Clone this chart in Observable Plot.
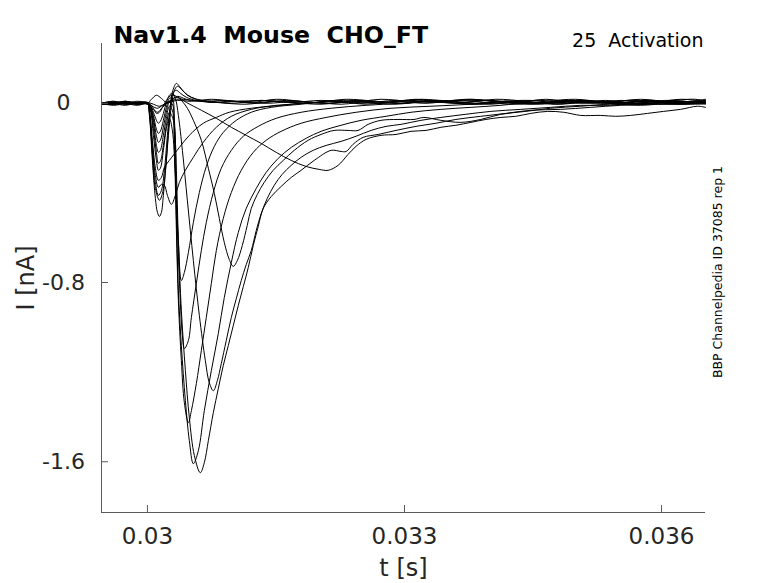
<!DOCTYPE html>
<html>
<head>
<meta charset="utf-8">
<script src="https://cdn.jsdelivr.net/npm/d3@7"></script>
<script src="https://cdn.jsdelivr.net/npm/@observablehq/plot@0.6"></script>
<style>
  html, body { margin: 0; padding: 0; background: #fff; }
  svg { white-space: pre; }
</style>
</head>
<body>
<div id="chart"></div>
<script>
// ---------- texts ----------
const titleText = "Nav1.4  Mouse  CHO_FT";
const protocolText = "25  Activation";
const sideText = "BBP Channelpedia ID 37085 rep 1";
const xLabel = "t [s]";
const yLabel = "I [nA]";

// ---------- axes ----------
const xDomain = [0.029464, 0.036513];
const yDomain = [-1.8266, 0.267];
const xTicks = [0.030, 0.033, 0.036];
const xTickLabels = ["0.03", "0.033", "0.036"];
const yTicks = [0, -0.8, -1.6];
const yTickLabels = ["0", "-0.8", "-1.6"];

// ---------- traces: [t (s), I (nA)] ----------
const traceN1 = [[0.029464,0],[0.029604,0.009],[0.029744,-0.004],[0.029883,0.004],[0.03,0],[0.030047,0.018],[0.030105,0.036],[0.030163,0.022],[0.030221,0.004],[0.03035,0.013],[0.030513,0.009],[0.030746,0.018],[0.031037,0.009],[0.031328,0.013],[0.031678,0.004],[0.032027,0.013],[0.032377,0.004],[0.032726,0.018],[0.033076,0.009],[0.033425,0.013],[0.033775,0],[0.034125,0.009],[0.034474,0.013],[0.034824,0],[0.035173,0.009],[0.035523,0.004],[0.035872,0.013],[0.036222,0],[0.036513,0.013]];

const traceN2 = [[0.029464,0.004],[0.029604,-0.004],[0.029744,0.004],[0.029883,0],[0.03,0],[0.030058,-0.013],[0.030117,-0.022],[0.030175,-0.009],[0.030256,0.009],[0.03035,0.031],[0.030454,0.018],[0.030629,0.009],[0.03092,0.013],[0.031212,0.004],[0.031503,0.018],[0.031794,0.009],[0.032144,0],[0.032493,0.013],[0.032843,0.004],[0.033192,0.018],[0.033542,0.009],[0.033891,0.013],[0.034241,0.004],[0.034591,-0.004],[0.03494,0.009],[0.03529,0],[0.035639,0.013],[0.035989,0.004],[0.036338,-0.004],[0.036513,0]];

const traceN3 = [[0.029464,-0.004],[0.029604,0],[0.029744,0.009],[0.029883,-0.004],[0.03,0.004],[0.03007,-0.004],[0.03014,-0.013],[0.030221,0],[0.030338,0.018],[0.030513,0.013],[0.030804,0.004],[0.031153,-0.004],[0.031468,0.009],[0.031853,0],[0.032202,0.009],[0.032552,-0.004],[0.032901,0.009],[0.033251,0],[0.0336,0.013],[0.03395,0.004],[0.034299,-0.004],[0.034649,0.009],[0.034998,0.018],[0.035348,0.004],[0.035697,-0.004],[0.036047,0.009],[0.036396,0.018],[0.036513,0.009]];

const traceS1 = [[0.029464,-0.004],[0.029604,0],[0.029744,0.004],[0.029883,-0.004],[0.03,-0.004],[0.030058,-0.022],[0.030117,-0.040],[0.030175,-0.018],[0.030256,0.009],[0.03035,0.027],[0.030454,0.004],[0.030629,-0.031],[0.030804,-0.067],[0.030979,-0.107],[0.031153,-0.143],[0.031328,-0.179],[0.031503,-0.219],[0.031678,-0.255],[0.031853,-0.282],[0.032004,-0.295],[0.032109,-0.299],[0.032225,-0.277],[0.032342,-0.228],[0.032435,-0.192],[0.032552,-0.161],[0.032726,-0.143],[0.032901,-0.139],[0.033076,-0.125],[0.033251,-0.121],[0.033425,-0.107],[0.0336,-0.098],[0.033775,-0.085],[0.03395,-0.072],[0.034125,-0.063],[0.034299,-0.058],[0.034474,-0.045],[0.034672,-0.036],[0.034858,-0.040],[0.035057,-0.054],[0.03529,-0.054],[0.035465,-0.058],[0.035639,-0.054],[0.035837,-0.045],[0.036024,-0.036],[0.036222,-0.027],[0.03642,-0.013],[0.036513,-0.018]];

const traceB7 = [[0.029464,0],[0.029604,-0.004],[0.029744,0.004],[0.029883,0],[0.03,0],[0.030035,-0.004],[0.03007,-0.022],[0.030105,-0.045],[0.03014,-0.040],[0.030175,-0.018],[0.030221,0.013],[0.03028,0.036],[0.030338,0.031],[0.030396,0.013],[0.030466,-0.022],[0.030536,-0.076],[0.030629,-0.165],[0.030711,-0.290],[0.030781,-0.402],[0.030839,-0.514],[0.030897,-0.621],[0.030955,-0.697],[0.031002,-0.728],[0.031049,-0.702],[0.031107,-0.635],[0.031165,-0.545],[0.031212,-0.469],[0.031282,-0.407],[0.031363,-0.353],[0.031468,-0.299],[0.031585,-0.255],[0.031713,-0.210],[0.031876,-0.165],[0.032027,-0.139],[0.032179,-0.121],[0.032342,-0.121],[0.032458,-0.121],[0.032575,-0.094],[0.032726,-0.076],[0.032924,-0.072],[0.033111,-0.072],[0.033227,-0.063],[0.033425,-0.076],[0.033658,-0.085],[0.033891,-0.072],[0.034125,-0.049],[0.034416,-0.036],[0.034707,-0.022],[0.035057,-0.013],[0.035406,-0.004],[0.035756,-0.009],[0.036105,0],[0.036513,-0.004]];

const traceB6 = [[0.029464,0.004],[0.029604,0],[0.029744,-0.009],[0.029883,0.004],[0.03,0],[0.030035,-0.009],[0.03007,-0.040],[0.030105,-0.076],[0.030128,-0.089],[0.030151,-0.080],[0.030186,-0.045],[0.030221,0.004],[0.030256,0.036],[0.030291,0.045],[0.030326,0.022],[0.030361,-0.054],[0.030408,-0.210],[0.030466,-0.433],[0.030536,-0.702],[0.030606,-0.947],[0.030676,-1.149],[0.030722,-1.247],[0.030769,-1.283],[0.030816,-1.238],[0.030862,-1.162],[0.03092,-1.059],[0.030979,-0.956],[0.031037,-0.872],[0.031095,-0.791],[0.031153,-0.720],[0.031212,-0.657],[0.03127,-0.568],[0.031328,-0.492],[0.031398,-0.425],[0.03148,-0.366],[0.031573,-0.317],[0.031678,-0.277],[0.031794,-0.241],[0.031934,-0.210],[0.032086,-0.188],[0.03226,-0.170],[0.032435,-0.147],[0.03261,-0.121],[0.032785,-0.103],[0.032959,-0.094],[0.033192,-0.076],[0.033425,-0.063],[0.033716,-0.049],[0.034008,-0.036],[0.034358,-0.027],[0.034707,-0.018],[0.035057,-0.009],[0.035406,-0.009],[0.035756,0],[0.036105,-0.004],[0.036513,0.004]];

const traceB5 = [[0.029464,-0.004],[0.029604,0.004],[0.029744,0],[0.029883,-0.009],[0.03,0],[0.030035,-0.013],[0.03007,-0.054],[0.030105,-0.116],[0.030128,-0.134],[0.030151,-0.125],[0.030186,-0.076],[0.030221,-0.018],[0.030256,0.022],[0.030291,0.022],[0.030315,-0.076],[0.030338,-0.299],[0.030361,-0.612],[0.030396,-0.925],[0.030443,-1.193],[0.030489,-1.403],[0.030548,-1.573],[0.030617,-1.649],[0.030664,-1.604],[0.030711,-1.506],[0.030769,-1.381],[0.030827,-1.274],[0.030885,-1.171],[0.030944,-1.081],[0.031002,-0.992],[0.03106,-0.903],[0.031119,-0.818],[0.031177,-0.733],[0.031235,-0.635],[0.031293,-0.550],[0.031352,-0.469],[0.031445,-0.416],[0.031561,-0.371],[0.031678,-0.331],[0.031794,-0.299],[0.031946,-0.255],[0.032144,-0.210],[0.03226,-0.215],[0.032319,-0.215],[0.0324,-0.183],[0.032517,-0.152],[0.032692,-0.139],[0.032901,-0.121],[0.033134,-0.103],[0.033367,-0.089],[0.0336,-0.072],[0.033891,-0.058],[0.034183,-0.045],[0.034474,-0.031],[0.034824,-0.027],[0.035173,-0.018],[0.035523,-0.009],[0.035872,-0.004],[0.036222,-0.004],[0.036513,0.004]];

const traceB4 = [[0.029464,0],[0.029604,-0.009],[0.029744,0],[0.029883,0.009],[0.03,0],[0.030035,-0.018],[0.03007,-0.067],[0.030105,-0.147],[0.030128,-0.174],[0.030151,-0.165],[0.030186,-0.107],[0.030221,-0.040],[0.030256,0.004],[0.030291,-0.004],[0.030315,-0.143],[0.030338,-0.501],[0.030361,-0.836],[0.030396,-1.081],[0.030443,-1.327],[0.030489,-1.506],[0.030536,-1.609],[0.030594,-1.551],[0.030664,-1.372],[0.030746,-1.193],[0.030827,-1.028],[0.030897,-0.867],[0.030979,-0.711],[0.03106,-0.577],[0.031153,-0.469],[0.03127,-0.380],[0.031386,-0.308],[0.031526,-0.246],[0.031678,-0.197],[0.031853,-0.156],[0.032027,-0.125],[0.03226,-0.098],[0.032493,-0.076],[0.032785,-0.058],[0.033076,-0.040],[0.033425,-0.027],[0.033775,-0.018],[0.034125,-0.009],[0.034474,0.004],[0.034824,-0.004],[0.035173,0.009],[0.035523,0],[0.035872,0.009],[0.036222,-0.004],[0.036513,0.004]];

const traceB3 = [[0.029464,0.004],[0.029604,0],[0.029744,0.009],[0.029883,0],[0.03,0.004],[0.030035,-0.022],[0.03007,-0.085],[0.030105,-0.188],[0.030128,-0.219],[0.030151,-0.210],[0.030186,-0.143],[0.030221,-0.067],[0.030256,-0.013],[0.030291,-0.031],[0.030315,-0.210],[0.030338,-0.568],[0.030361,-0.880],[0.030396,-1.149],[0.030431,-1.336],[0.030478,-1.426],[0.030513,-1.372],[0.030571,-1.251],[0.030629,-1.104],[0.030687,-0.956],[0.030746,-0.804],[0.030804,-0.657],[0.030885,-0.514],[0.030979,-0.398],[0.031095,-0.299],[0.031235,-0.219],[0.031386,-0.165],[0.031561,-0.125],[0.031794,-0.089],[0.032086,-0.063],[0.032435,-0.040],[0.032843,-0.022],[0.033309,-0.013],[0.033775,-0.004],[0.034183,0.009],[0.034591,0],[0.034998,0.013],[0.035406,0],[0.035814,0.009],[0.036222,0.004],[0.036513,0.013]];

const traceB2 = [[0.029464,-0.004],[0.029604,0.004],[0.029744,-0.004],[0.029883,0],[0.03,-0.004],[0.030035,-0.027],[0.03007,-0.112],[0.030105,-0.219],[0.030128,-0.268],[0.030151,-0.259],[0.030186,-0.188],[0.030221,-0.098],[0.030256,-0.040],[0.030303,-0.076],[0.030338,-0.433],[0.030373,-0.791],[0.030408,-1.037],[0.030431,-1.095],[0.030478,-1.059],[0.030513,-0.956],[0.030571,-0.804],[0.030629,-0.657],[0.030687,-0.532],[0.030769,-0.398],[0.030862,-0.290],[0.030979,-0.210],[0.031119,-0.147],[0.031293,-0.103],[0.031503,-0.067],[0.031794,-0.040],[0.032144,-0.022],[0.032552,-0.009],[0.032959,0],[0.033367,0.009],[0.033775,-0.004],[0.034183,0.004],[0.034591,0.013],[0.034998,0],[0.035406,0.009],[0.035814,-0.004],[0.036222,0.009],[0.036513,0]];

const traceB1 = [[0.029464,0],[0.029604,0.009],[0.029744,0],[0.029883,-0.004],[0.03,0],[0.030035,-0.031],[0.03007,-0.143],[0.030105,-0.255],[0.030128,-0.299],[0.030151,-0.290],[0.030186,-0.210],[0.030221,-0.112],[0.030256,-0.067],[0.030291,-0.121],[0.030326,-0.322],[0.030361,-0.612],[0.030396,-0.791],[0.030431,-0.755],[0.030478,-0.666],[0.030536,-0.532],[0.030606,-0.398],[0.030687,-0.282],[0.030781,-0.192],[0.030885,-0.130],[0.031037,-0.076],[0.031212,-0.040],[0.031445,-0.018],[0.031794,-0.004],[0.032144,0.009],[0.032493,0],[0.032901,0.013],[0.033309,0.004],[0.033717,0.018],[0.034125,0.009],[0.034532,0],[0.03494,0.013],[0.035348,0.004],[0.035756,0.018],[0.036164,0.004],[0.036513,0.009]];

const traceF5 = [[0.029464,-0.004],[0.029604,0],[0.029744,0.009],[0.029883,0],[0.03,0],[0.030023,-0.031],[0.030058,-0.165],[0.030093,-0.290],[0.030128,-0.344],[0.030163,-0.331],[0.030198,-0.286],[0.030256,-0.255],[0.030373,-0.197],[0.030489,-0.143],[0.030652,-0.089],[0.030804,-0.063],[0.030955,-0.040],[0.031212,-0.022],[0.031561,-0.009],[0.031911,0.004],[0.03226,-0.004],[0.03261,0.009],[0.032959,0],[0.033309,0.013],[0.033658,0.004],[0.034008,-0.004],[0.034358,0.009],[0.034707,0],[0.035057,0.013],[0.035406,0.004],[0.035756,-0.004],[0.036105,0.009],[0.036513,0.004]];

const traceF4 = [[0.029464,0.004],[0.029604,-0.004],[0.029744,0],[0.029883,0.004],[0.03,0],[0.030023,-0.036],[0.030058,-0.188],[0.030093,-0.322],[0.030128,-0.375],[0.030163,-0.362],[0.030198,-0.366],[0.030233,-0.411],[0.03028,-0.451],[0.030326,-0.411],[0.030373,-0.353],[0.030443,-0.299],[0.030536,-0.241],[0.030652,-0.174],[0.030804,-0.107],[0.030979,-0.058],[0.031212,-0.027],[0.031503,-0.009],[0.031853,0],[0.032202,0.013],[0.032552,0.004],[0.032901,-0.004],[0.033251,0.009],[0.0336,0],[0.03395,0.013],[0.034299,0.004],[0.034649,0.018],[0.034998,0.004],[0.035348,0.013],[0.035697,0],[0.036047,0.013],[0.036513,0]];

const traceF3 = [[0.029464,0],[0.029604,0.004],[0.029744,-0.004],[0.029883,0],[0.03,0.004],[0.030023,-0.040],[0.030058,-0.210],[0.030093,-0.353],[0.030128,-0.411],[0.030163,-0.389],[0.030198,-0.299],[0.030233,-0.143],[0.030268,-0.009],[0.030303,0.049],[0.030338,0.058],[0.030384,0.045],[0.030454,0.027],[0.030571,0.013],[0.030746,0.004],[0.030979,0.009],[0.03127,0],[0.03162,0.013],[0.031969,0.004],[0.032319,0.018],[0.032668,0.009],[0.033018,0],[0.033367,0.013],[0.033717,0.004],[0.034066,0.018],[0.034416,0.009],[0.034765,-0.004],[0.035115,0.009],[0.035464,0],[0.035814,0.013],[0.036163,0.004],[0.036513,0.018]];

const traceF2 = [[0.029464,-0.004],[0.029604,0],[0.029744,0.004],[0.029883,-0.004],[0.03,0],[0.030023,-0.045],[0.030058,-0.232],[0.030093,-0.380],[0.03014,-0.433],[0.030175,-0.402],[0.03021,-0.299],[0.030245,-0.143],[0.03028,-0.009],[0.030315,0.058],[0.03035,0.076],[0.030396,0.063],[0.030466,0.036],[0.030571,0.018],[0.030746,0.009],[0.030979,0],[0.031328,0.013],[0.031678,0.004],[0.032027,-0.004],[0.032377,0.009],[0.032726,0],[0.033076,0.013],[0.033425,0.004],[0.033775,0.018],[0.034125,0.004],[0.034474,-0.004],[0.034824,0.009],[0.035173,0],[0.035523,0.013],[0.035872,0.004],[0.036222,0.018],[0.036513,0.009]];

const traceF1 = [[0.029464,0],[0.029604,-0.004],[0.029744,0.004],[0.029883,0],[0.03,0],[0.030023,-0.054],[0.030058,-0.255],[0.030093,-0.425],[0.030117,-0.487],[0.03014,-0.505],[0.030163,-0.487],[0.030186,-0.411],[0.030221,-0.255],[0.030256,-0.067],[0.030291,0.049],[0.030338,0.089],[0.030373,0.076],[0.030431,0.049],[0.030513,0.027],[0.030629,0.013],[0.030804,0.004],[0.031095,0.009],[0.031386,0],[0.031736,0.009],[0.032086,0],[0.032435,0.013],[0.032785,0.004],[0.033134,0.018],[0.033484,0.004],[0.033833,-0.004],[0.034183,0.009],[0.034532,0],[0.034882,0.013],[0.035231,0.004],[0.035581,-0.004],[0.03593,0.009],[0.03628,0],[0.036513,0.013]];

const traces = [
  ["N1", traceN1], ["N2", traceN2], ["N3", traceN3], ["S1", traceS1],
  ["B7", traceB7], ["B6", traceB6], ["B5", traceB5], ["B4", traceB4],
  ["B3", traceB3], ["B2", traceB2], ["B1", traceB1],
  ["F5", traceF5], ["F4", traceF4], ["F3", traceF3], ["F2", traceF2], ["F1", traceF1]
];
const rows = traces.flatMap(([id, pts]) => pts.map(([t, I]) => ({id, t, I})));

const axisColor = "#5a5a5a";
const textColor = "#262626";

const chart = Plot.plot({
  width: 778,
  height: 583,
  marginTop: 43,
  marginRight: 73,
  marginBottom: 71,
  marginLeft: 101,
  style: {fontFamily: "DejaVu Sans", background: "white", overflow: "visible"},
  x: {domain: xDomain},
  y: {domain: yDomain},
  marks: [
    Plot.line(rows, {x: "t", y: "I", z: "id", stroke: "black", strokeWidth: 1, curve: "catmull-rom"}),
    Plot.ruleX([xDomain[0]], {stroke: axisColor, strokeWidth: 1}),
    Plot.ruleY([yDomain[0]], {stroke: axisColor, strokeWidth: 1}),
    Plot.axisX({ticks: xTicks, tickFormat: (d, i) => xTickLabels[i], tickSize: -7, tickPadding: 22,
      stroke: axisColor, fill: textColor, fontSize: 23, label: null}),
    Plot.axisY({ticks: yTicks, tickFormat: (d, i) => yTickLabels[i], tickSize: -7, tickPadding: 45,
      textAnchor: "middle", stroke: axisColor, fill: textColor, fontSize: 22, label: null}),
    Plot.text([xLabel], {text: d => d, frameAnchor: "bottom", dy: 56, lineAnchor: "middle",
      fontSize: 24, fill: textColor}),
    Plot.text([yLabel], {text: d => d, frameAnchor: "left", dx: -75, rotate: -90, textAnchor: "middle",
      lineAnchor: "middle", fontSize: 24, fill: textColor}),
    Plot.text([titleText], {text: d => d, frameAnchor: "top-left", dx: 12, dy: -1, textAnchor: "start",
      lineAnchor: "bottom", fontSize: 23.7, fontWeight: "bold", fill: "black"}),
    Plot.text([protocolText], {text: d => d, frameAnchor: "top-right", dx: -2, dy: 3, textAnchor: "end",
      lineAnchor: "bottom", fontSize: 19, fill: "black"}),
    Plot.text([sideText], {text: d => d, frameAnchor: "right", dx: 12, dy: -6, rotate: -90,
      textAnchor: "middle", lineAnchor: "middle", fontSize: 12.5, fill: "black"})
  ]
});
document.getElementById("chart").appendChild(chart);
</script>
</body>
</html>
